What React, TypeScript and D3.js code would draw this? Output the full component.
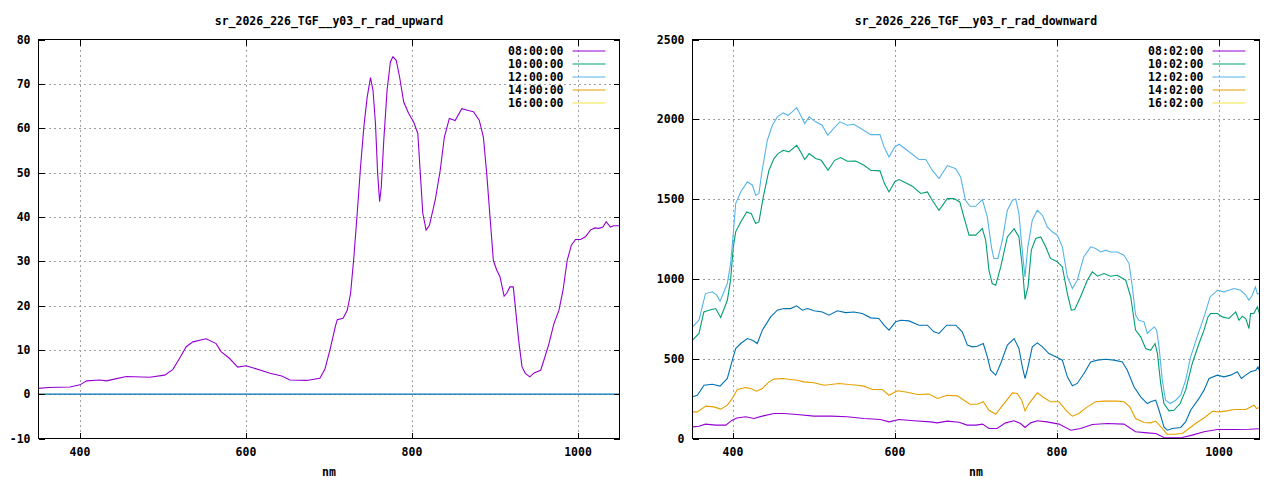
import * as d3 from "d3";

type Pt = [number, number];

// gnuplot default line colours
const PURPLE = "#9400d3";
const GREEN = "#009e73";
const SKY = "#56b4e9";
const ORANGE = "#e69f00";
const YELLOW = "#f0e442";
const BLUE = "#0072b2";

const xTicks = [400, 600, 800, 1000];
const upYTicks = [-10, 0, 10, 20, 30, 40, 50, 60, 70, 80];
const downYTicks = [0, 500, 1000, 1500, 2000, 2500];

const upLegend = ["08:00:00", "10:00:00", "12:00:00", "14:00:00", "16:00:00"];
const downLegend = ["08:02:00", "10:02:00", "12:02:00", "14:02:00", "16:02:00"];
const legendColors = [PURPLE, GREEN, SKY, ORANGE, YELLOW];

// upward radiance, 08:00
const up0800: Pt[] = [
    [350, 1.3], [362, 1.5], [388, 1.6], [400, 2.1], [408, 3.0], [424, 3.2], [432, 3.0], [444, 3.5],
    [456, 4.0], [484, 3.8], [502, 4.3], [512, 5.6], [520, 8.1], [528, 10.7], [536, 11.8], [552, 12.5],
    [564, 11.4], [570, 9.6], [580, 8.1], [590, 6.1], [600, 6.4], [609, 5.9], [629, 4.7], [643, 4.1],
    [653, 3.2], [673, 3.1], [689, 3.6], [695, 5.6], [701, 9.9], [708, 15.5], [710, 16.8], [717, 17.1],
    [722, 18.9], [726, 22.7], [730, 31], [734, 40.8], [738, 51.3], [742, 60.3], [746, 67], [750, 71.4],
    [753, 68.6], [756, 61], [758.6, 49.8], [761, 43.4], [763, 46.8], [766, 57.3], [770, 68.6], [774, 75],
    [777, 76.1], [781, 75.3], [785, 71.6], [790, 65.9], [796, 63.3], [802, 61.4], [807, 58.8], [810, 49.8],
    [813, 40.8], [817, 37], [821, 38.1], [828, 43.8], [834, 50.5], [839, 58], [845, 62.2], [852, 61.7],
    [860, 64.4], [868, 64], [874, 63.7], [881, 61.8], [886, 58], [890, 49.8], [894, 40], [898, 30.2],
    [902, 28], [906, 26.5], [911, 22.1], [914, 22.7], [918, 24.2], [922, 24.2], [924.5, 19.7], [928.5, 12.2],
    [932.5, 6.2], [936.5, 4.7], [942, 3.9], [947, 4.8], [955, 5.4], [959, 7.7], [965, 11.4], [971, 15.9],
    [977, 18.9], [982, 23.5], [987, 30.2], [992, 33.6], [997, 34.9], [1003, 34.9], [1009, 35.5], [1015, 37],
    [1020, 37.5], [1025, 37.4], [1030, 37.7], [1034, 38.9], [1039, 37.7], [1043, 38], [1050, 38],
];

// the other upward runs sit flat on zero
const upZero: Pt[] = [[350, 0], [1050, 0]];

// downward radiance
const down0802: Pt[] = [
    [350, 73], [358, 77], [366, 90], [378.6, 84], [391, 84], [399, 115], [405, 129], [415.6, 136],
    [426, 125], [436, 140], [450.6, 157], [463, 157], [479, 150], [500, 140], [520.6, 140], [541, 136],
    [561.7, 125], [582, 119], [592.6, 104], [605, 119], [623.5, 111], [644, 104], [652, 98], [664.6, 109],
    [679, 102], [689, 84], [700, 84], [708, 90], [716, 63], [726, 63], [736.6, 98], [747, 111],
    [755, 94], [760.5, 69], [767.5, 98], [775.7, 111], [787.6, 104], [802.5, 90], [817, 52], [829, 63],
    [843.6, 88], [862, 94], [882.7, 90], [897, 42], [911.5, 35], [922, 31], [932, 6], [944, 4],
    [954.7, 6], [967, 21], [981.5, 42], [998, 56], [1018.5, 56], [1037, 58], [1050, 61],
];

const down1002: Pt[] = [
    [350, 616], [358, 658], [364, 793], [370.4, 804], [378.6, 814], [384.8, 758], [393, 866], [397, 992],
    [400.4, 1201], [403.3, 1295], [409.5, 1357], [417, 1420], [422.6, 1409], [428, 1347], [432, 1357],
    [437.4, 1514], [444.4, 1681], [450.6, 1754], [455.6, 1785], [462, 1806], [469, 1796], [478.6, 1837],
    [483.5, 1796], [488.5, 1748], [494, 1785], [502, 1754], [509, 1743], [517.3, 1681], [525.5, 1743],
    [533, 1760], [541, 1737], [551.4, 1739], [561.7, 1712], [570, 1681], [581.5, 1677], [587, 1597],
    [592.6, 1545], [599.6, 1608], [605, 1622], [613, 1602], [621.4, 1581], [631.7, 1535], [640, 1545],
    [646, 1493], [654.3, 1430], [664.6, 1503], [672.8, 1503], [680, 1482], [685, 1389], [691.4, 1274],
    [699.6, 1274], [707.8, 1315], [712, 1242], [716, 1054], [720, 971], [724.3, 960], [730.5, 1075],
    [738.7, 1263], [747, 1315], [753, 1263], [757.2, 1075], [760.5, 871], [764.2, 950], [768.3, 1180],
    [773.7, 1253], [780, 1263], [786, 1201], [792, 1128], [800.4, 1107], [806.6, 1075], [812.8, 908],
    [817.7, 804], [821.8, 808], [829, 887], [837.4, 992], [843.6, 1044], [850, 1017], [858, 1034],
    [866, 1017], [874.5, 1023], [884.8, 992], [891, 887], [897, 679], [903.3, 637], [909.5, 564],
    [915.6, 553], [921, 595], [924, 532], [928, 345], [932, 219], [938.3, 173], [944.4, 177], [952, 219],
    [958.8, 303], [967, 470], [975.3, 595], [981.5, 679], [986.4, 762], [989.7, 783], [998, 783],
    [1004, 762], [1012.3, 752], [1020.6, 793], [1024.7, 741], [1028.8, 766], [1033, 752], [1037, 689],
    [1039, 783], [1043, 783], [1047.3, 825], [1050, 783],
];

const down1202: Pt[] = [
    [350, 699], [358, 741], [366, 908], [374.5, 919], [380, 898], [384, 860], [393, 971], [397, 1096],
    [400.4, 1284], [403.3, 1472], [409.5, 1545], [417.7, 1608], [424, 1587], [428, 1524], [432, 1535],
    [436, 1681], [442.4, 1869], [448.6, 1963], [454.7, 2015], [462, 2040], [468, 2025], [473, 2046],
    [478.6, 2073], [483.5, 2025], [488.5, 1973], [494, 2015], [502, 1984], [510, 1963], [517, 1900],
    [524, 1942], [532, 1984], [541, 1963], [549, 1969], [558, 1942], [570, 1904], [581.5, 1904],
    [586.4, 1827], [592.6, 1764], [599.6, 1827], [605, 1844], [615, 1806], [629.6, 1748], [638, 1748],
    [646, 1681], [654.3, 1629], [664.6, 1710], [675, 1691], [681, 1639], [687, 1493], [692.6, 1455],
    [699.6, 1455], [707.8, 1497], [714, 1389], [719, 1201], [722, 1128], [727, 1128], [732.5, 1242],
    [738.7, 1430], [745, 1493], [749, 1501], [753, 1409], [757, 1180], [760.5, 1013], [764, 1201],
    [769.5, 1368], [775.7, 1430], [782, 1399], [788, 1326], [794, 1295], [800.4, 1274], [806.6, 1201],
    [812.8, 1013], [819, 940], [825, 992], [833, 1138], [841.6, 1201], [847.7, 1190], [854, 1169],
    [860, 1180], [866, 1169], [874.5, 1169], [882.7, 1148], [889, 1096], [893, 950], [897, 773],
    [901, 741], [907.4, 731], [911.5, 658], [915.6, 679], [920, 699], [923, 679], [926, 574], [930, 365],
    [934, 240], [940, 219], [946.5, 240], [952.7, 271], [958.8, 365], [965, 512], [973, 637], [981.5, 762],
    [989, 887], [998, 929], [1006, 919], [1012, 929], [1018.5, 940], [1026.7, 929], [1033, 898],
    [1037, 866], [1041, 898], [1045, 950], [1047.3, 908], [1050, 908],
];

const down1402: Pt[] = [
    [350, 167], [356, 167], [366.3, 203], [376.5, 198], [384.8, 184], [393, 209], [399.2, 251], [405.3, 307],
    [415.6, 319], [421.8, 313], [429.2, 296], [436.2, 313], [444.4, 355], [450.6, 372], [461, 376],
    [471.2, 370], [479.4, 365], [487.7, 355], [500, 349], [512.3, 334], [520.6, 338], [531, 345],
    [543.2, 338], [553.5, 334], [561.7, 328], [572, 307], [584.4, 307], [592.6, 271], [603, 299],
    [615.2, 290], [627.6, 276], [642, 278], [652.3, 251], [664.6, 271], [677, 267], [685.2, 240],
    [692.6, 215], [701.6, 215], [709, 230], [716, 177], [724.3, 152], [734.6, 219], [745, 286], [751, 282],
    [756.4, 240], [760.5, 173], [765.4, 219], [775.7, 286], [784, 255], [792, 230], [802.5, 230],
    [812.8, 167], [819, 140], [827, 157], [837.4, 198], [847.7, 230], [858, 234], [874.5, 234],
    [882.7, 230], [890, 198], [897, 125], [907.4, 100], [915.6, 98], [921.8, 109], [930, 63], [936, 27],
    [944.4, 27], [954.7, 31], [963, 63], [971, 94], [983.5, 136], [992, 171], [1000, 167], [1010, 173],
    [1018.5, 182], [1033, 182], [1039, 198], [1043, 209], [1046.5, 188], [1050, 194],
];

// sixth run, drawn without a key entry
const downExtra: Pt[] = [
    [350, 261], [356, 271], [364.2, 334], [374.5, 340], [384, 328], [393, 376], [399.2, 491], [403.3, 564],
    [409.5, 595], [417.7, 626], [424, 616], [430, 595], [436.2, 679], [446.5, 762], [454.7, 804],
    [463, 814], [471.2, 814], [478.6, 831], [485.6, 804], [492, 814], [500, 800], [510.3, 793],
    [518.5, 773], [528.8, 800], [539, 789], [549.4, 793], [559.7, 783], [570, 756], [580, 752],
    [586.4, 710], [592.6, 679], [600.8, 731], [607, 741], [617.3, 737], [629.6, 710], [640, 710],
    [648, 668], [654.3, 658], [663.8, 710], [675, 710], [683, 668], [689.3, 585], [695.5, 574],
    [701.6, 578], [709, 595], [714, 512], [718, 428], [724.3, 397], [730.5, 470], [738.7, 585], [747, 626],
    [753, 564], [757.2, 449], [760.5, 376], [764.2, 449], [769.5, 574], [775.7, 599], [782, 574],
    [790, 532], [800.4, 507], [806.6, 491], [812.8, 386], [819, 330], [825, 345], [833.3, 407],
    [841.6, 480], [850, 491], [860, 497], [870.4, 491], [880.7, 480], [886.8, 428], [895, 324],
    [903.3, 261], [911.5, 219], [915.6, 230], [921.8, 240], [926, 177], [932, 73], [936.2, 52],
    [942.4, 63], [952.7, 69], [958.8, 104], [965, 177], [975.3, 251], [981.5, 303], [987.7, 376],
    [998, 397], [1006, 386], [1014.4, 397], [1022.6, 418], [1027.6, 376], [1033, 397], [1039, 418],
    [1045.3, 428], [1048.2, 449], [1050, 424],
];

const FONT = "'DejaVu Sans Mono', monospace";

interface Series {
    data: Pt[];
    color: string;
}

interface PanelProps {
    title: string;
    left: number;
    right: number;
    top: number;
    bottom: number;
    yDomain: [number, number];
    yTicks: number[];
    series: Series[];
    legend: string[];
}

function Panel({ title, left, right, top, bottom, yDomain, yTicks, series, legend }: PanelProps) {
    const x = d3.scaleLinear().domain([350, 1050]).range([left, right]);
    const y = d3.scaleLinear().domain(yDomain).range([bottom, top]);
    const line = d3.line<Pt>().x((d) => x(d[0])).y((d) => y(d[1]));
    const tick = 6;
    const textProps = { fontFamily: FONT, fontSize: 11.5, fontWeight: 700, fill: "#000" };

    return (
        <g>
            <text {...textProps} x={(left + right) / 2} y={21} textAnchor="middle" dominantBaseline="central">
                {title}
            </text>

            {/* grid */}
            <g stroke="#a0a0a0" strokeWidth={1} strokeDasharray="2,3" shapeRendering="crispEdges">
                {xTicks.map((t) => (
                    <line key={"gx" + t} x1={Math.round(x(t)) + 0.5} x2={Math.round(x(t)) + 0.5} y1={top} y2={bottom} />
                ))}
                {yTicks.slice(1, -1).map((t) => (
                    <line key={"gy" + t} x1={left} x2={right} y1={Math.round(y(t)) + 0.5} y2={Math.round(y(t)) + 0.5} />
                ))}
            </g>

            {/* data */}
            {series.map((s, i) => (
                <path key={i} d={line(s.data) ?? ""} fill="none" stroke={s.color} strokeWidth={1.1} />
            ))}

            {/* frame and ticks */}
            <g stroke="#000" strokeWidth={1} shapeRendering="crispEdges">
                <rect x={left} y={top} width={right - left} height={bottom - top} fill="none" />
                {xTicks.map((t) => {
                    const px = Math.round(x(t)) + 0.5;
                    return (
                        <g key={"tx" + t}>
                            <line x1={px} x2={px} y1={bottom} y2={bottom - tick} />
                            <line x1={px} x2={px} y1={top} y2={top + tick} />
                        </g>
                    );
                })}
                {yTicks.map((t) => {
                    const py = Math.round(y(t)) + 0.5;
                    return (
                        <g key={"ty" + t}>
                            <line x1={left} x2={left + tick} y1={py} y2={py} />
                            <line x1={right} x2={right - tick} y1={py} y2={py} />
                        </g>
                    );
                })}
            </g>

            {/* tick labels */}
            {xTicks.map((t) => (
                <text key={"lx" + t} {...textProps} x={x(t)} y={452} textAnchor="middle" dominantBaseline="central">
                    {t}
                </text>
            ))}
            {yTicks.map((t) => (
                <text key={"ly" + t} {...textProps} x={left - 8} y={y(t)} textAnchor="end" dominantBaseline="central">
                    {t}
                </text>
            ))}
            <text {...textProps} x={(left + right) / 2} y={472} textAnchor="middle" dominantBaseline="central">
                nm
            </text>

            {/* key */}
            {legend.map((label, i) => {
                const ly = top + 11.5 + i * 13;
                return (
                    <g key={"k" + label}>
                        <text {...textProps} x={right - 56} y={ly} textAnchor="end" dominantBaseline="central">
                            {label}
                        </text>
                        <path d={`M${right - 47},${ly}H${right - 14}`} stroke={legendColors[i]} strokeWidth={1.2} fill="none" />
                    </g>
                );
            })}
        </g>
    );
}

export default function App() {
    return (
        <svg width={1280} height={480} style={{ position: "absolute", left: 0, top: 0, background: "#fff" }}>
            <rect width={1280} height={480} fill="#fff" />
            <Panel
                title="sr_2026_226_TGF__y03_r_rad_upward"
                left={38.5}
                right={619.5}
                top={39.5}
                bottom={438.5}
                yDomain={[-10, 80]}
                yTicks={upYTicks}
                series={[
                    { data: up0800, color: PURPLE },
                    { data: upZero, color: BLUE },
                ]}
                legend={upLegend}
            />
            <Panel
                title="sr_2026_226_TGF__y03_r_rad_downward"
                left={692.5}
                right={1259.5}
                top={39.5}
                bottom={438.5}
                yDomain={[0, 2500]}
                yTicks={downYTicks}
                series={[
                    { data: down0802, color: PURPLE },
                    { data: down1002, color: GREEN },
                    { data: down1202, color: SKY },
                    { data: down1402, color: ORANGE },
                    { data: downExtra, color: BLUE },
                ]}
                legend={downLegend}
            />
        </svg>
    );
}
